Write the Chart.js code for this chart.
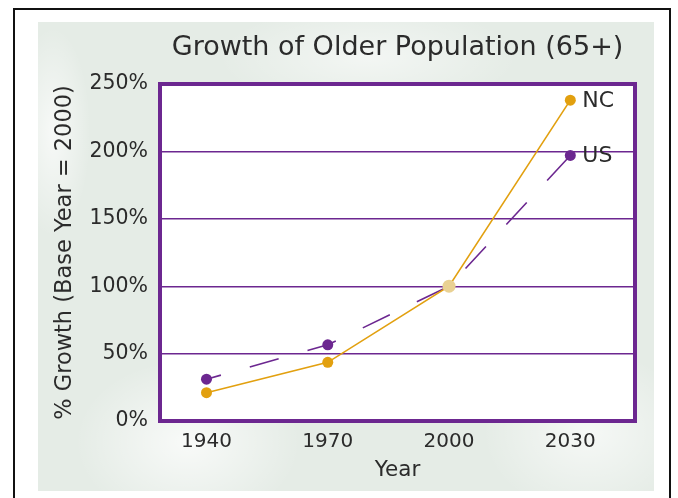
<!DOCTYPE html>
<html>
<head>
<meta charset="utf-8">
<script src="https://cdn.jsdelivr.net/npm/chart.js@4/dist/chart.umd.min.js"></script>
<style>
  html, body { margin: 0; padding: 0; background: #fff; }
  #wrap { position: relative; width: 678px; height: 498px; overflow: hidden; }
  #frame { position: absolute; left: 13px; top: 8px; width: 654px; height: 500px;
           border: 2px solid #111; border-bottom: none; }
  #bg { position: absolute; left: 38px; top: 22px; width: 616px; height: 469px;
        background:
          radial-gradient(ellipse 150px 110px at 150px 420px, rgba(255,255,255,0.75), rgba(255,255,255,0) 75%),
          radial-gradient(ellipse 140px 110px at 550px 410px, rgba(255,255,255,0.65), rgba(255,255,255,0) 75%),
          radial-gradient(ellipse 200px 70px at 330px 35px, rgba(255,255,255,0.55), rgba(255,255,255,0) 75%),
          radial-gradient(ellipse 50px 140px at 15px 110px, rgba(255,255,255,0.7), rgba(255,255,255,0) 75%),
          #e5ece6; }
  canvas { position: absolute; left: 0; top: 0; }
</style>
</head>
<body>
<div id="wrap">
  <div id="frame"></div>
  <div id="bg"></div>
  <canvas id="chart" width="678" height="498"></canvas>
</div>
<script>
// 年(x軸)
const years = [1940, 1970, 2000, 2030];
// 2000年を基準にした伸び率(%)
const ncValues = [21, 43.5, 100, 238];
const usValues = [31, 56.5, 100, 197];
// y軸の目盛り
const yTicks = [0, 50, 100, 150, 200, 250];
const seriesNames = ['NC', 'US'];

const purple = '#6c2790';
const orange = '#e2a00f';
const textColor = '#2b2b2b';
const font = "'DejaVu Sans', sans-serif";

// 枠線と右端のラベルを描くプラグイン
const framePlugin = {
  id: 'frame',
  beforeDraw(chart) {
    const a = chart.chartArea;
    const ctx = chart.ctx;
    ctx.save();
    ctx.fillStyle = '#fff';
    ctx.fillRect(a.left, a.top, a.right - a.left, a.bottom - a.top);
    ctx.restore();
  },
  afterDatasetsDraw(chart) {
    const a = chart.chartArea;
    const ctx = chart.ctx;
    ctx.save();
    ctx.strokeStyle = purple;
    ctx.lineWidth = 4;
    ctx.strokeRect(a.left, a.top, a.right - a.left, a.bottom - a.top);
    // 系列名を最後の点の横に
    ctx.fillStyle = textColor;
    ctx.font = '22px ' + font;
    ctx.textBaseline = 'middle';
    chart.data.datasets.forEach((ds, i) => {
      const pt = chart.getDatasetMeta(i).data[ds.data.length - 1];
      ctx.fillText(seriesNames[i], pt.x + 12, pt.y + 1);
    });
    ctx.restore();
  }
};

new Chart(document.getElementById('chart'), {
  type: 'line',
  data: {
    datasets: [{
      label: seriesNames[0],
      data: years.map((y, i) => ({ x: y, y: ncValues[i] })),
      borderColor: orange,
      borderWidth: 1.6,
      pointBackgroundColor: [orange, orange, '#e9d193', orange],
      pointBorderWidth: 0,
      pointRadius: [5.5, 5.5, 6.5, 5.5],
      tension: 0
    }, {
      label: seriesNames[1],
      data: years.map((y, i) => ({ x: y, y: usValues[i] })),
      borderColor: purple,
      borderWidth: 1.6,
      borderDash: [30, 30],
      borderDashOffset: 15,
      pointBackgroundColor: purple,
      pointBorderWidth: 0,
      pointRadius: [5.5, 5.5, 0, 5.5],
      tension: 0
    }]
  },
  options: {
    responsive: false,
    animation: false,
    layout: { padding: { left: 50, right: 43, top: 20, bottom: 10 } },
    plugins: {
      legend: { display: false },
      tooltip: { enabled: false },
      title: {
        display: true,
        text: 'Growth of Older Population (65+)',
        fullSize: false,
        color: textColor,
        font: { family: font, size: 27, weight: 'normal' },
        padding: { top: 12, bottom: 19.6 }
      }
    },
    scales: {
      x: {
        type: 'linear',
        min: 1928.5,
        max: 2046,
        afterBuildTicks: (s) => { s.ticks = years.map(v => ({ value: v })); },
        afterFit: (s) => { s.height = 67; },
        grid: { display: false, drawTicks: false },
        border: { display: false },
        ticks: {
          padding: 9,
          color: textColor,
          font: { family: font, size: 20 },
          callback: (v) => String(v)
        },
        title: {
          display: true,
          text: 'Year',
          color: textColor,
          font: { family: font, size: 21.5 },
          padding: { bottom: 5 }
        }
      },
      y: {
        min: 0,
        max: 250,
        afterBuildTicks: (s) => { s.ticks = yTicks.map(v => ({ value: v })); },
        afterFit: (s) => { s.width = 110; },
        grid: { color: purple, lineWidth: 1.4, drawTicks: false },
        border: { display: false },
        ticks: {
          padding: 12,
          color: textColor,
          font: { family: font, size: 20.5 },
          callback: (v) => v + '%'
        },
        title: {
          display: true,
          text: '% Growth (Base Year = 2000)',
          color: textColor,
          font: { family: font, size: 22.5 },
          padding: { top: 2 }
        }
      }
    }
  },
  plugins: [framePlugin]
});
</script>
</body>
</html>
